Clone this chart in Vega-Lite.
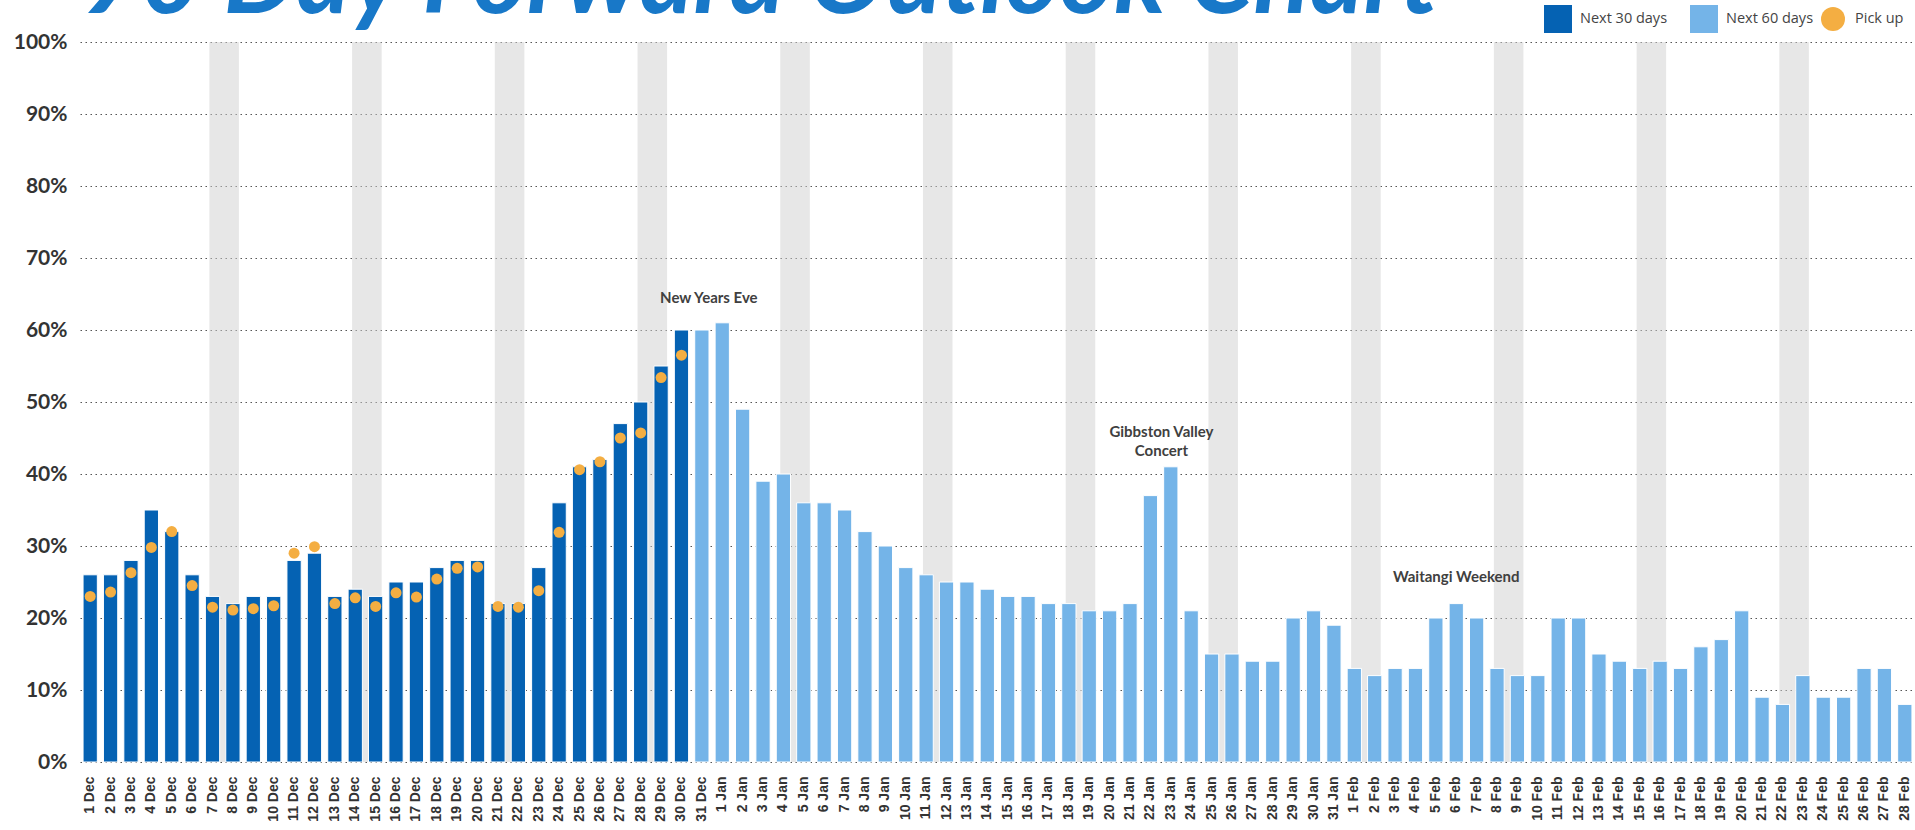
{
  "$schema": "https://vega.github.io/schema/vega-lite/v6.json",
  "width": 1835,
  "height": 720,
  "autosize": {"type": "none"},
  "padding": {"left": 80, "top": 42, "right": 0, "bottom": 68},
  "background": "white",
  "title": {
    "text": "90 Day Forward Outlook Chart",
    "anchor": "start",
    "frame": "group",
    "font": "Lato",
    "fontSize": 104,
    "fontWeight": "bold",
    "fontStyle": "italic",
    "color": "#1878c8",
    "offset": 14,
    "dy": 44
  },
  "config": {"view": {"stroke": null}, "font": "Lato"},
  "datasets": {
    "days": [
      {"date": "2018-12-01", "v": 0.26, "p": 0.23, "s": "Next 30 days"},
      {"date": "2018-12-02", "v": 0.26, "p": 0.236, "s": "Next 30 days"},
      {"date": "2018-12-03", "v": 0.28, "p": 0.263, "s": "Next 30 days"},
      {"date": "2018-12-04", "v": 0.35, "p": 0.298, "s": "Next 30 days"},
      {"date": "2018-12-05", "v": 0.32, "p": 0.32, "s": "Next 30 days"},
      {"date": "2018-12-06", "v": 0.26, "p": 0.245, "s": "Next 30 days"},
      {"date": "2018-12-07", "v": 0.23, "p": 0.215, "s": "Next 30 days"},
      {"date": "2018-12-08", "v": 0.22, "p": 0.211, "s": "Next 30 days"},
      {"date": "2018-12-09", "v": 0.23, "p": 0.213, "s": "Next 30 days"},
      {"date": "2018-12-10", "v": 0.23, "p": 0.217, "s": "Next 30 days"},
      {"date": "2018-12-11", "v": 0.28, "p": 0.29, "s": "Next 30 days"},
      {"date": "2018-12-12", "v": 0.29, "p": 0.299, "s": "Next 30 days"},
      {"date": "2018-12-13", "v": 0.23, "p": 0.22, "s": "Next 30 days"},
      {"date": "2018-12-14", "v": 0.24, "p": 0.228, "s": "Next 30 days"},
      {"date": "2018-12-15", "v": 0.23, "p": 0.216, "s": "Next 30 days"},
      {"date": "2018-12-16", "v": 0.25, "p": 0.235, "s": "Next 30 days"},
      {"date": "2018-12-17", "v": 0.25, "p": 0.229, "s": "Next 30 days"},
      {"date": "2018-12-18", "v": 0.27, "p": 0.254, "s": "Next 30 days"},
      {"date": "2018-12-19", "v": 0.28, "p": 0.269, "s": "Next 30 days"},
      {"date": "2018-12-20", "v": 0.28, "p": 0.271, "s": "Next 30 days"},
      {"date": "2018-12-21", "v": 0.22, "p": 0.216, "s": "Next 30 days"},
      {"date": "2018-12-22", "v": 0.22, "p": 0.215, "s": "Next 30 days"},
      {"date": "2018-12-23", "v": 0.27, "p": 0.238, "s": "Next 30 days"},
      {"date": "2018-12-24", "v": 0.36, "p": 0.319, "s": "Next 30 days"},
      {"date": "2018-12-25", "v": 0.41, "p": 0.406, "s": "Next 30 days"},
      {"date": "2018-12-26", "v": 0.42, "p": 0.417, "s": "Next 30 days"},
      {"date": "2018-12-27", "v": 0.47, "p": 0.45, "s": "Next 30 days"},
      {"date": "2018-12-28", "v": 0.50, "p": 0.457, "s": "Next 30 days"},
      {"date": "2018-12-29", "v": 0.55, "p": 0.534, "s": "Next 30 days"},
      {"date": "2018-12-30", "v": 0.60, "p": 0.565, "s": "Next 30 days"},
      {"date": "2018-12-31", "v": 0.60, "s": "Next 60 days"},
      {"date": "2019-01-01", "v": 0.61, "s": "Next 60 days"},
      {"date": "2019-01-02", "v": 0.49, "s": "Next 60 days"},
      {"date": "2019-01-03", "v": 0.39, "s": "Next 60 days"},
      {"date": "2019-01-04", "v": 0.40, "s": "Next 60 days"},
      {"date": "2019-01-05", "v": 0.36, "s": "Next 60 days"},
      {"date": "2019-01-06", "v": 0.36, "s": "Next 60 days"},
      {"date": "2019-01-07", "v": 0.35, "s": "Next 60 days"},
      {"date": "2019-01-08", "v": 0.32, "s": "Next 60 days"},
      {"date": "2019-01-09", "v": 0.30, "s": "Next 60 days"},
      {"date": "2019-01-10", "v": 0.27, "s": "Next 60 days"},
      {"date": "2019-01-11", "v": 0.26, "s": "Next 60 days"},
      {"date": "2019-01-12", "v": 0.25, "s": "Next 60 days"},
      {"date": "2019-01-13", "v": 0.25, "s": "Next 60 days"},
      {"date": "2019-01-14", "v": 0.24, "s": "Next 60 days"},
      {"date": "2019-01-15", "v": 0.23, "s": "Next 60 days"},
      {"date": "2019-01-16", "v": 0.23, "s": "Next 60 days"},
      {"date": "2019-01-17", "v": 0.22, "s": "Next 60 days"},
      {"date": "2019-01-18", "v": 0.22, "s": "Next 60 days"},
      {"date": "2019-01-19", "v": 0.21, "s": "Next 60 days"},
      {"date": "2019-01-20", "v": 0.21, "s": "Next 60 days"},
      {"date": "2019-01-21", "v": 0.22, "s": "Next 60 days"},
      {"date": "2019-01-22", "v": 0.37, "s": "Next 60 days"},
      {"date": "2019-01-23", "v": 0.41, "s": "Next 60 days"},
      {"date": "2019-01-24", "v": 0.21, "s": "Next 60 days"},
      {"date": "2019-01-25", "v": 0.15, "s": "Next 60 days"},
      {"date": "2019-01-26", "v": 0.15, "s": "Next 60 days"},
      {"date": "2019-01-27", "v": 0.14, "s": "Next 60 days"},
      {"date": "2019-01-28", "v": 0.14, "s": "Next 60 days"},
      {"date": "2019-01-29", "v": 0.20, "s": "Next 60 days"},
      {"date": "2019-01-30", "v": 0.21, "s": "Next 60 days"},
      {"date": "2019-01-31", "v": 0.19, "s": "Next 60 days"},
      {"date": "2019-02-01", "v": 0.13, "s": "Next 60 days"},
      {"date": "2019-02-02", "v": 0.12, "s": "Next 60 days"},
      {"date": "2019-02-03", "v": 0.13, "s": "Next 60 days"},
      {"date": "2019-02-04", "v": 0.13, "s": "Next 60 days"},
      {"date": "2019-02-05", "v": 0.20, "s": "Next 60 days"},
      {"date": "2019-02-06", "v": 0.22, "s": "Next 60 days"},
      {"date": "2019-02-07", "v": 0.20, "s": "Next 60 days"},
      {"date": "2019-02-08", "v": 0.13, "s": "Next 60 days"},
      {"date": "2019-02-09", "v": 0.12, "s": "Next 60 days"},
      {"date": "2019-02-10", "v": 0.12, "s": "Next 60 days"},
      {"date": "2019-02-11", "v": 0.20, "s": "Next 60 days"},
      {"date": "2019-02-12", "v": 0.20, "s": "Next 60 days"},
      {"date": "2019-02-13", "v": 0.15, "s": "Next 60 days"},
      {"date": "2019-02-14", "v": 0.14, "s": "Next 60 days"},
      {"date": "2019-02-15", "v": 0.13, "s": "Next 60 days"},
      {"date": "2019-02-16", "v": 0.14, "s": "Next 60 days"},
      {"date": "2019-02-17", "v": 0.13, "s": "Next 60 days"},
      {"date": "2019-02-18", "v": 0.16, "s": "Next 60 days"},
      {"date": "2019-02-19", "v": 0.17, "s": "Next 60 days"},
      {"date": "2019-02-20", "v": 0.21, "s": "Next 60 days"},
      {"date": "2019-02-21", "v": 0.09, "s": "Next 60 days"},
      {"date": "2019-02-22", "v": 0.08, "s": "Next 60 days"},
      {"date": "2019-02-23", "v": 0.12, "s": "Next 60 days"},
      {"date": "2019-02-24", "v": 0.09, "s": "Next 60 days"},
      {"date": "2019-02-25", "v": 0.09, "s": "Next 60 days"},
      {"date": "2019-02-26", "v": 0.13, "s": "Next 60 days"},
      {"date": "2019-02-27", "v": 0.13, "s": "Next 60 days"},
      {"date": "2019-02-28", "v": 0.08, "s": "Next 60 days"}
    ],
    "bands": [
      {"a": "2018-12-07", "b": "2018-12-08"},
      {"a": "2018-12-14", "b": "2018-12-15"},
      {"a": "2018-12-21", "b": "2018-12-22"},
      {"a": "2018-12-28", "b": "2018-12-29"},
      {"a": "2019-01-04", "b": "2019-01-05"},
      {"a": "2019-01-11", "b": "2019-01-12"},
      {"a": "2019-01-18", "b": "2019-01-19"},
      {"a": "2019-01-25", "b": "2019-01-26"},
      {"a": "2019-02-01", "b": "2019-02-02"},
      {"a": "2019-02-08", "b": "2019-02-09"},
      {"a": "2019-02-15", "b": "2019-02-16"},
      {"a": "2019-02-22", "b": "2019-02-23"}
    ]
  },
  "layer": [
    {
      "data": {"name": "bands"},
      "mark": {"type": "rect", "color": "#d0d0d0", "opacity": 0.5},
      "encoding": {
        "x": {"field": "a", "timeUnit": "utcyearmonthdate", "type": "ordinal", "bandPosition": 0.28, "title": null},
        "x2": {"field": "b", "timeUnit": "utcyearmonthdate", "bandPosition": 0.92}
      }
    },
    {
      "data": {"name": "days"},
      "mark": {"type": "bar", "stroke": "white", "strokeWidth": 1},
      "encoding": {
        "x": {
          "field": "date", "timeUnit": "utcyearmonthdate", "type": "ordinal", "title": null,
          "scale": {"paddingInner": 0.3, "paddingOuter": 0.15},
          "axis": {
            "format": "%-d %b", "labelAngle": -90, "ticks": false, "domain": false,
            "labelPadding": 14, "labelFont": "Liberation Sans", "labelFontWeight": "bold",
            "labelFontSize": 14, "labelColor": "#333333", "grid": false
          }
        },
        "y": {
          "field": "v", "type": "quantitative", "title": null,
          "scale": {"domain": [0, 1]},
          "axis": {
            "values": [0, 0.1, 0.2, 0.3, 0.4, 0.5, 0.6, 0.7, 0.8, 0.9, 1],
            "format": ".0%", "ticks": false, "domain": false, "labelPadding": 13,
            "labelFont": "Lato", "labelFontWeight": "bold", "labelFontSize": 21, "labelColor": "#333333",
            "grid": true, "gridColor": "#555555", "gridDash": [1.5, 3.5], "gridWidth": 1.2
          }
        },
        "color": {
          "field": "s", "type": "nominal", "title": null,
          "scale": {"domain": ["Next 30 days", "Next 60 days"], "range": ["#0562b3", "#74b4e8"]},
          "legend": {
            "orient": "none", "legendX": 1464, "legendY": -37, "direction": "horizontal",
            "labelFont": "Open Sans", "labelFontSize": 14.5, "labelColor": "#444444", "labelOffset": 8,
            "columnPadding": 22, "symbolSize": 784, "symbolStrokeWidth": 0, "symbolOpacity": 1,
            "symbolType": "square"
          }
        }
      }
    },
    {
      "data": {"name": "days"},
      "mark": {"type": "point", "filled": true, "size": 121, "opacity": 1, "color": "#f4ae42"},
      "encoding": {
        "x": {"field": "date", "timeUnit": "utcyearmonthdate", "type": "ordinal", "title": null},
        "y": {"field": "p", "type": "quantitative", "title": null},
        "shape": {
          "datum": "Pick up", "type": "nominal",
          "scale": {"domain": ["Pick up"], "range": ["circle"]},
          "legend": {
            "orient": "none", "legendX": 1741, "legendY": -35, "title": null,
            "labelFont": "Open Sans", "labelFontSize": 14.5, "labelColor": "#444444", "labelOffset": 10,
            "symbolSize": 576, "symbolStrokeWidth": 0, "symbolFillColor": "#f4ae42", "symbolOpacity": 1
          }
        }
      }
    },
    {
      "data": {"values": [{"date": "2018-12-31", "t": "New Years Eve", "y": 0.645}]},
      "mark": {"type": "text", "font": "Lato", "fontWeight": "bold", "fontSize": 15, "color": "#404040", "dx": 7, "baseline": "middle"},
      "encoding": {
        "x": {"field": "date", "timeUnit": "utcyearmonthdate", "type": "ordinal", "title": null},
        "y": {"field": "y", "type": "quantitative", "title": null},
        "text": {"field": "t"}
      }
    },
    {
      "data": {"values": [{"date": "2019-01-22", "t": ["Gibbston Valley", "Concert"], "y": 0.4585}]},
      "mark": {"type": "text", "font": "Lato", "fontWeight": "bold", "fontSize": 15, "color": "#404040", "dx": 11, "baseline": "middle", "lineHeight": 19},
      "encoding": {
        "x": {"field": "date", "timeUnit": "utcyearmonthdate", "type": "ordinal", "title": null},
        "y": {"field": "y", "type": "quantitative", "title": null},
        "text": {"field": "t"}
      }
    },
    {
      "data": {"values": [{"date": "2019-02-06", "t": "Waitangi Weekend", "y": 0.2576}]},
      "mark": {"type": "text", "font": "Lato", "fontWeight": "bold", "fontSize": 15, "color": "#404040", "baseline": "middle"},
      "encoding": {
        "x": {"field": "date", "timeUnit": "utcyearmonthdate", "type": "ordinal", "title": null},
        "y": {"field": "y", "type": "quantitative", "title": null},
        "text": {"field": "t"}
      }
    }
  ]
}
